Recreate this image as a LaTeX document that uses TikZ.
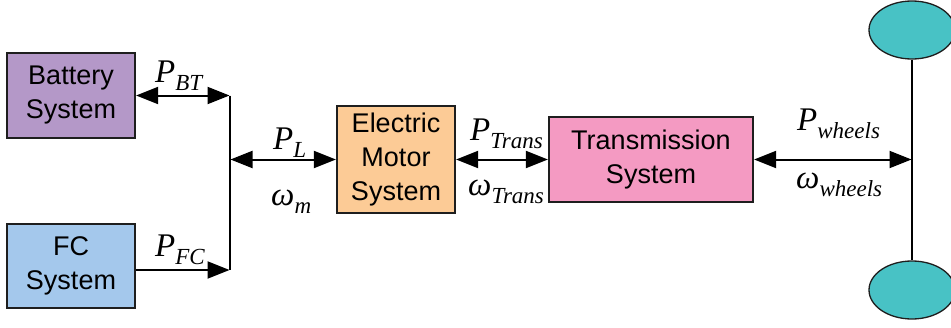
\documentclass[tikz,border=0pt]{standalone}
\usepackage{fontspec}
\setmainfont{Liberation Sans}
\newfontfamily\labfont{Liberation Serif}
\usetikzlibrary{arrows.meta,shapes.geometric}

\definecolor{batt}{RGB}{180,152,200}
\definecolor{fcblue}{RGB}{164,200,236}
\definecolor{motor}{RGB}{252,203,150}
\definecolor{trans}{RGB}{244,154,194}
\definecolor{wheel}{RGB}{72,194,197}
\definecolor{edge}{RGB}{30,30,30}

% italic quantity with a lowered subscript
\newcommand{\qty}[2]{{\labfont\itshape\fontsize{33}{33}\selectfont #1\raisebox{-8pt}{\fontsize{23}{23}\selectfont #2}}}

\tikzset{
  tip/.tip={Triangle[length=22pt,width=17pt]},
  block/.style={draw=edge, line width=1.3pt, align=center,
    font=\fontsize{27}{34}\selectfont, inner sep=0pt},
  flow/.style={line width=2pt, tip-tip, shorten <=0.5pt, shorten >=0.5pt},
  feed/.style={line width=2pt, -tip, shorten >=0.5pt},
  bus/.style={line width=1.4pt},
  lab/.style={anchor=base west, inner sep=0pt},
  wheelnode/.style={ellipse, draw=edge, line width=1.3pt, fill=wheel,
    minimum width=86pt, minimum height=58pt, inner sep=0pt}
}

\begin{document}
\begin{tikzpicture}[x=1pt,y=-1pt]
  \useasboundingbox (0,0) rectangle (951,327);
  \clip (0,0) rectangle (951,327);

  % blocks
  \node[block, fill=batt, minimum width=128pt, minimum height=85pt] (bat) at (71,95.5) {Battery\\System};
  \node[block, fill=fcblue, minimum width=128pt, minimum height=84pt] (fc) at (71,266) {FC\\System};
  \node[block, fill=motor, minimum width=118pt, minimum height=107pt] (mot) at (396,159.5) {Electric\\Motor\\System};
  \node[block, fill=trans, minimum width=204pt, minimum height=85pt] (tr) at (651,159.5) {Transmission\\System};

  % wheels and axle
  \node[wheelnode] (wtop) at (912,30) {};
  \node[wheelnode] (wbot) at (912,290) {};
  \draw[bus] (wtop.south) -- (wbot.north);
  \coordinate (axle) at (912,159.5);

  % DC bus junction
  \coordinate (jtop) at (230,95.5);
  \coordinate (jbot) at (230,270);
  \coordinate (jmid) at (230,159.5);
  \draw[bus] (jtop) -- (jbot);

  % power flows
  \draw[flow] (bat.east) -- (jtop);
  \draw[feed] (jbot -| fc.east) -- (jbot);
  \draw[flow] (jmid) -- (mot.west);
  \draw[flow] (mot.east) -- (tr.west);
  \draw[flow] (tr.east) -- (axle);

  % labels
  \node[lab] (lbt) at (155,82) {\qty{P}{BT}};
  \node[lab] (lfc) at (155,256) {\qty{P}{FC}};
  \node[lab] (lpl) at (273,149) {\qty{P}{L}};
  \node[lab] (lwm) at (271,205) {\qty{ω}{m}};
  \node[lab] (lpt) at (470,140) {\qty{P}{Trans}};
  \node[lab] (lwt) at (468,195) {\qty{ω}{Trans}};
  \node[lab] (lpw) at (797,130) {\qty{P}{wheels}};
  \node[lab] (lww) at (796,188) {\qty{ω}{wheels}};
\end{tikzpicture}
\end{document}
